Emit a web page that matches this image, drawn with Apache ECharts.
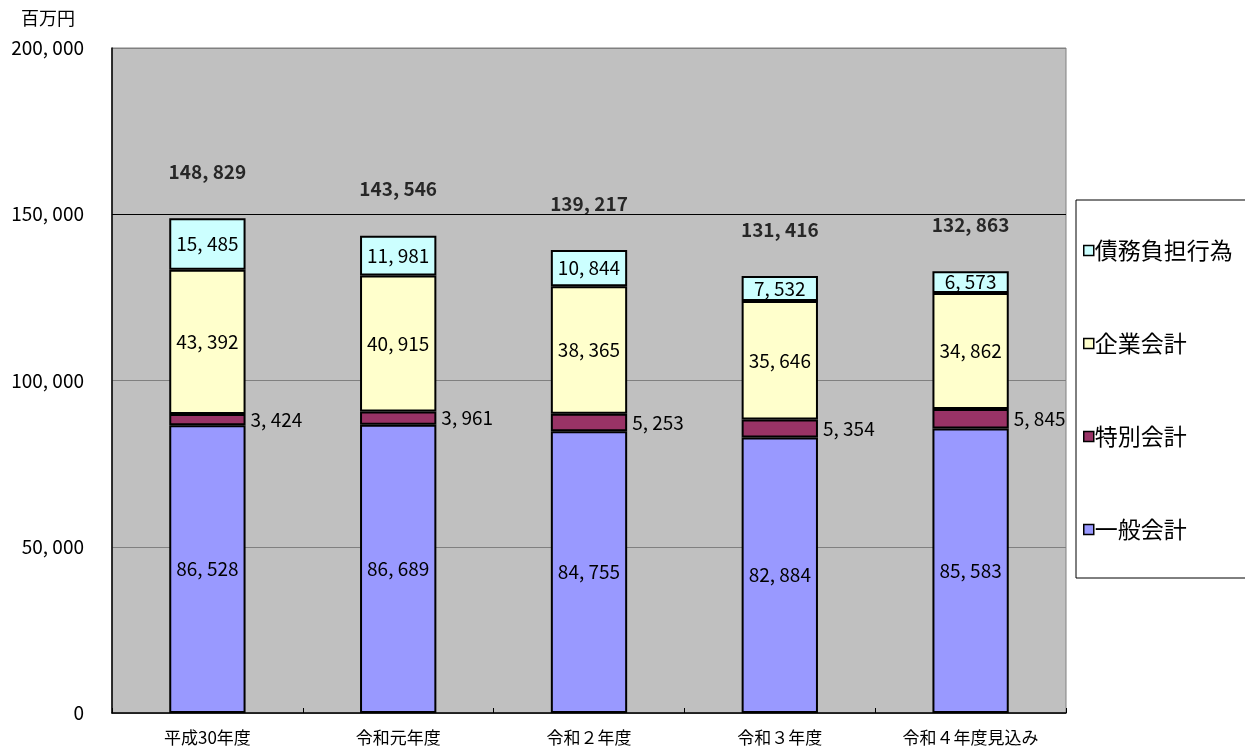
<!DOCTYPE html>
<html>
<head>
<meta charset="utf-8">
<script src="https://cdn.jsdelivr.net/npm/echarts@6/dist/echarts.min.js"></script>
<style>
  html, body { margin: 0; padding: 0; background: #fff; }
  #main { width: 1245px; height: 746px; }
</style>
</head>
<body>
<div id="main"></div>
<script>
// 年度
var categories = ['平成30年度', '令和元年度', '令和２年度', '令和３年度', '令和４年度見込み'];
// 各会計 (百万円)
var ippan = [86528, 86689, 84755, 82884, 85583];
var tokubetsu = [3424, 3961, 5253, 5354, 5845];
var kigyo = [43392, 40915, 38365, 35646, 34862];
var saimu = [15485, 11981, 10844, 7532, 6573];
var yTicks = [0, 50000, 100000, 150000, 200000];

var totals = categories.map(function (c, i) {
    return ippan[i] + tokubetsu[i] + kigyo[i] + saimu[i];
});

var font = '"Noto Sans CJK JP", sans-serif';

function fmt(v) {
    // 桁区切りは「, 」で表示
    return String(v).replace(/\B(?=(\d{3})+(?!\d))/g, ', ');
}

var chart = echarts.init(document.getElementById('main'));

function seg(name, data, color, pos) {
    return {
        name: name,
        type: 'bar',
        stack: 'total',
        barWidth: '40%',
        data: data,
        itemStyle: { color: color, borderColor: '#000', borderWidth: 2 },
        label: {
            show: true,
            position: pos,
            distance: 5,
            color: '#000',
            fontFamily: font,
            fontSize: 19,
            formatter: function (p) { return fmt(p.value); }
        }
    };
}

chart.setOption({
    animation: false,
    textStyle: { fontFamily: font },
    title: {
        text: '百万円',
        left: 16,
        top: 4,
        textStyle: { color: '#000', fontSize: 18, fontWeight: 'normal', fontFamily: font }
    },
    grid: {
        left: 112, right: 179, top: 48, bottom: 33,
        show: true,
        backgroundColor: '#C0C0C0',
        borderColor: '#808080',
        borderWidth: 1
    },
    legend: {
        orient: 'vertical',
        left: 1076,
        top: 200,
        padding: [39, 60, 37, 7],
        itemGap: 70,
        itemWidth: 10,
        itemHeight: 10,
        icon: 'rect',
        backgroundColor: '#fff',
        borderColor: '#000',
        borderWidth: 1,
        itemStyle: { borderColor: '#000', borderWidth: 1.5 },
        textStyle: { fontSize: 23, color: '#000', fontFamily: font, padding: [0, 0, 0, -4] },
        data: ['債務負担行為', '企業会計', '特別会計', '一般会計']
    },
    xAxis: {
        type: 'category',
        data: categories,
        axisLine: { lineStyle: { color: '#000', width: 1.5 } },
        axisTick: { show: true, inside: true, length: 5, lineStyle: { color: '#000' } },
        axisLabel: { color: '#000', fontSize: 17, margin: 16, fontFamily: font }
    },
    yAxis: {
        type: 'value',
        min: yTicks[0],
        max: yTicks[yTicks.length - 1],
        interval: yTicks[1] - yTicks[0],
        axisLine: { show: true, lineStyle: { color: '#000', width: 1.5 } },
        axisTick: { show: false },
        axisLabel: {
            color: '#000', fontSize: 19, margin: 28, fontFamily: font,
            formatter: function (v) { return fmt(v); }
        },
        splitLine: { show: true, lineStyle: { color: '#808080', width: 1 } }
    },
    series: [
        seg('一般会計', ippan, '#9999FF', 'inside'),
        seg('特別会計', tokubetsu, '#993366', 'right'),
        seg('企業会計', kigyo, '#FFFFCC', 'inside'),
        Object.assign(seg('債務負担行為', saimu, '#CCFFFF', 'inside'), {
            markLine: {
                silent: true,
                symbol: 'none',
                label: { show: false },
                lineStyle: { color: '#000', width: 1, type: 'solid' },
                data: [{ yAxis: 150000 }]
            }
        }),
        {
            name: '合計',
            type: 'scatter',
            data: totals,
            symbolSize: 0,
            label: {
                show: true,
                position: 'top',
                distance: 37,
                color: '#000',
                fontFamily: font,
                fontSize: 19,
                fontWeight: 'bold',
                formatter: function (p) { return fmt(p.value); }
            }
        }
    ]
});
</script>
</body>
</html>
